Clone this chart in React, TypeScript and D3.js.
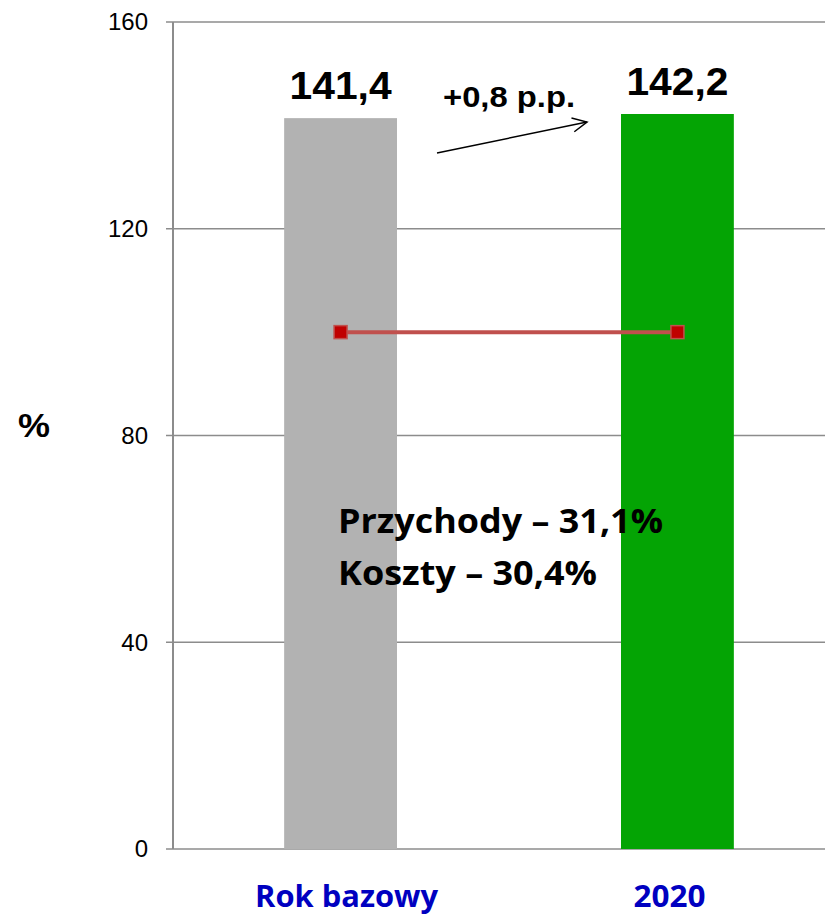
import React from "react";
import * as d3 from "d3";

const categories = ["Rok bazowy", "2020"];
const barValues = [141.4, 142.2];
const barLabels = ["141,4", "142,2"];
const barColors = ["#b2b2b2", "#04a404"];
const lineValues = [100, 100];
const yTicks = [0, 40, 80, 120, 160];
const changeLabel = "+0,8 p.p.";
const noteLines = ["Przychody – 31,1%", "Koszty – 30,4%"];

const ARIAL = "'Liberation Sans', Arial, sans-serif";
const CALIBRI = "'Open Sans', Lato, sans-serif";

export default function App() {
  const W = 825, H = 915;
  const x0 = 173, x1 = 845;
  const y = d3.scaleLinear().domain([0, 160]).range([849, 22]);
  const x = d3.scaleBand<string>().domain(categories).range([x0, x1]).paddingInner(0.665).paddingOuter(0.33);
  const bw = x.bandwidth();
  const cx = (c: string) => (x(c) as number) + bw / 2;
  const line = d3.line<number>().x((_, i) => cx(categories[i])).y((v) => y(v));
  const a0 = [437, 153], a1 = [587, 122];
  const ang = Math.atan2(a1[1] - a0[1], a1[0] - a0[0]);
  const hl = 16, ha = 0.45;
  const catLen = [183, 72];
  const noteLen = [325, 259];
  return (
    <svg width={W} height={H} style={{ position: "absolute", left: 0, top: 0, background: "#fff" }}>
      {yTicks.map((t) => (
        <g key={t}>
          <line x1={166} x2={W} y1={y(t)} y2={y(t)} stroke="#8c8c8c" strokeWidth={1.5} />
          <text x={148} y={y(t)} dy="0.35em" textAnchor="end" style={{ fontFamily: ARIAL, fontSize: 24 }} fill="#000">{t}</text>
        </g>
      ))}
      <line x1={x0} x2={x0} y1={y(160)} y2={y(0)} stroke="#8c8c8c" strokeWidth={2} />
      {categories.map((c, i) => (
        <g key={c}>
          <rect x={x(c)} y={y(barValues[i])} width={bw} height={y(0) - y(barValues[i])} fill={barColors[i]} />
          <text x={cx(c)} y={y(barValues[i]) - 19} textAnchor="middle" textLength={102} lengthAdjust="spacingAndGlyphs" style={{ fontFamily: ARIAL, fontWeight: "bold", fontSize: 39 }} fill="#000">{barLabels[i]}</text>
          <text x={cx(c) + (i === 0 ? 6 : -8)} y={907} textAnchor="middle" textLength={catLen[i]} lengthAdjust="spacingAndGlyphs" style={{ fontFamily: CALIBRI, fontWeight: "bold", fontSize: 31 }} fill="#0000c0">{c}</text>
        </g>
      ))}
      <path d={line(lineValues) as string} stroke="#c0504d" strokeWidth={4} fill="none" />
      {categories.map((c, i) => (
        <rect key={c} x={cx(c) - 6.5} y={y(lineValues[i]) - 6.5} width={13} height={13} fill="#c00000" stroke="#c0504d" strokeWidth={1.5} />
      ))}
      <line x1={a0[0]} y1={a0[1]} x2={a1[0]} y2={a1[1]} stroke="#000" strokeWidth={1.5} />
      <polyline
        points={`${a1[0] - hl * Math.cos(ang - ha)},${a1[1] - hl * Math.sin(ang - ha)} ${a1[0]},${a1[1]} ${a1[0] - hl * Math.cos(ang + ha)},${a1[1] - hl * Math.sin(ang + ha)}`}
        stroke="#000" strokeWidth={1.5} fill="none" />
      <text x={443} y={107} textLength={132} lengthAdjust="spacingAndGlyphs" style={{ fontFamily: ARIAL, fontWeight: "bold", fontSize: 29 }} fill="#000">{changeLabel}</text>
      {noteLines.map((t, i) => (
        <text key={t} x={338} y={533 + i * 52} textLength={noteLen[i]} lengthAdjust="spacingAndGlyphs" style={{ fontFamily: CALIBRI, fontWeight: "bold", fontSize: 34 }} fill="#000">{t}</text>
      ))}
      <text x={18} y={437} textLength={32} lengthAdjust="spacingAndGlyphs" style={{ fontFamily: ARIAL, fontWeight: "bold", fontSize: 34 }} fill="#000">%</text>
    </svg>
  );
}
